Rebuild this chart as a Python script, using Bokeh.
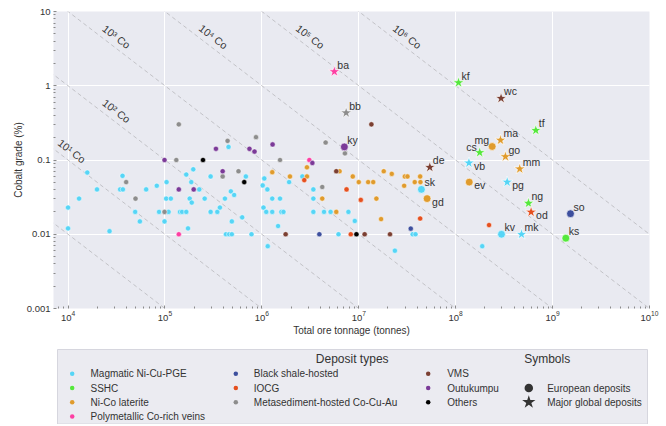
import math
import numpy as np
from bokeh.plotting import figure
from bokeh.models import FixedTicker, CustomJSTickFormatter, Range1d
from bokeh.layouts import column
from bokeh.embed import file_html
from bokeh.resources import INLINE
from bokeh.core.properties import value

FONT = value("Liberation Sans")

# ---------------- data ----------------
types = ["Magmatic Ni-Cu-PGE", "SSHC", "Ni-Co laterite", "Polymetallic Co-rich veins",
         "Black shale-hosted", "IOCG", "Metasediment-hosted Co-Cu-Au",
         "VMS", "Outukumpu", "Others"]
colors = ["#56d5f6", "#55e83c", "#e09b2d", "#fd3fa3", "#3d4f9e",
          "#e5501f", "#8d8d8d", "#7b3f32", "#7b3a98", "#000000"]

# tonnage (t), grade (% Co) of the smaller deposits
magmatic_t = [1e4, 1e4, 1.3e4, 1.58e4, 1.99e4, 2.68e4, 3.45e4, 3.68e4, 3.65e4, 4.93e4,
              5.51e4, 6.4e4, 8.24e4, 8.7e4, 1.04e5, 1.03e5, 1.09e5, 1.15e5, 9.9e4, 1.43e5,
              1.5e5, 1.66e5, 1.66e5, 1.73e5, 1.8e5, 1.89e5, 1.87e5, 1.96e5, 2.26e5, 2.57e5,
              2.96e5, 2.96e5, 3.47e5, 3.69e5, 4.16e5, 4.26e5, 4.6e5, 4.9e5, 4.79e5, 5.18e5,
              4.9e5, 6.27e5, 6.84e5, 7.82e5, 1.02e6, 1.06e6, 1.14e6, 1.04e6, 1.11e6, 1.15e6,
              1.28e6, 1.28e6, 1.54e6, 1.59e6, 1.67e6, 1.47e6, 1.91e6, 2.62e6, 3.4e6, 3.4e6,
              3.4e6, 4.38e6, 5.12e6, 6.18e6, 4.53e5, 7.82e6, 9.1e6, 2.36e7, 3.6e7, 3.85e7,
              1.88e8]
magmatic_g = [0.0229, 0.012, 0.0302, 0.0678, 0.0402, 0.011, 0.0402, 0.0402, 0.0612, 0.02,
              0.0149, 0.0402, 0.045, 0.02, 0.0504, 0.0302, 0.02, 0.0302, 0.0149, 0.02,
              0.02, 0.02, 0.0637, 0.012, 0.0302, 0.0267, 0.0504, 0.075, 0.0402, 0.0302,
              0.06, 0.02, 0.02, 0.0229, 0.0302, 0.01, 0.01, 0.01, 0.0378, 0.0338,
              0.0149, 0.0169, 0.06, 0.01, 0.0455, 0.0564, 0.0402, 0.0229, 0.02, 0.0069,
              0.0302, 0.02, 0.0302, 0.02, 0.02, 0.0129, 0.0504, 0.06, 0.0402, 0.0302,
              0.02, 0.02, 0.02, 0.01, 0.15, 0.02, 0.0151, 0.006, 0.01, 0.01,
              0.0069]
sshc_t = []
sshc_g = []
laterite_t = [1.28e6, 1.95e6, 2.92e6, 2.92e6, 6.34e6, 4.2e6, 5.86e6, 8.67e6, 1e7, 1.25e7,
              1.41e7, 1.81e7, 2.19e7, 2.99e7, 3.18e7, 2.94e7, 3.78e7, 4.3e7, 4.33e7, 1.52e7,
              1.7e7]
laterite_g = [0.0685, 0.06, 0.0798, 0.06, 0.0706, 0.0302, 0.02, 0.06, 0.0504, 0.0504,
              0.0504, 0.0706, 0.065, 0.06, 0.06, 0.045, 0.0504, 0.06, 0.0504, 0.0302,
              0.016]
veins_t = [1.39e5, 3.09e6]
veins_g = [0.01, 0.1]
shale_t = [3.92e6, 3.44e7]
shale_g = [0.01, 0.0119]
iocg_t = [2.74e6, 7.48e6, 1.05e7, 4.3e7, 8.27e6, 2.21e8]
iocg_g = [0.0536, 0.0402, 0.029, 0.0163, 0.01, 0.0133]
metased_t = [1.39e5, 4.43e5, 8.7e5, 3.98e4, 4.97e4, 9.9e4, 1.31e5, 3.94e5, 5.74e5, 1.54e6,
             4.55e6, 4.2e6, 7.2e6]
metased_g = [0.302, 0.181, 0.203, 0.0504, 0.0302, 0.02, 0.1, 0.06, 0.0706, 0.1,
             0.172, 0.0433, 0.123]
vms_t = [5.86e6, 1.76e6, 1.35e7, 1.15e7, 2.1e7]
vms_g = [0.0706, 0.01, 0.302, 0.01, 0.01]
outo_t = [9.9e4, 3.36e5, 7.45e5, 8.4e5, 1.29e6, 3.94e5, 1.39e5, 1.98e5, 3.32e6]
outo_g = [0.1, 0.1415, 0.1415, 0.13, 0.162, 0.0706, 0.0402, 0.0402, 0.0912]
others_t = [2.47e5, 6.58e5, 9.46e6]
others_g = [0.1, 0.0504, 0.01]

small_t = [magmatic_t, sshc_t, laterite_t, veins_t, shale_t, iocg_t, metased_t, vms_t, outo_t, others_t]
small_g = [magmatic_g, sshc_g, laterite_g, veins_g, shale_g, iocg_g, metased_g, vms_g, outo_g, others_g]

# European deposits (circles)
eu_names = ["ky", "sk", "gd", "mg", "ev", "kv", "so", "ks"]
eu_types = [8, 0, 2, 2, 2, 0, 4, 1]
eu_t = [7.1e6, 4.43e7, 5.07e7, 2.38e8, 1.38e8, 2.97e8, 1.53e9, 1.37e9]
eu_g = [0.15, 0.0402, 0.0302, 0.152, 0.0504, 0.01, 0.0189, 0.00886]

# major global deposits (stars)
gl_names = ["ba", "bb", "kf", "wc", "tf", "ma", "cs", "go", "de", "vb", "mm", "pg", "ng", "od", "mk"]
gl_types = [3, 6, 1, 7, 1, 2, 1, 2, 7, 0, 2, 0, 1, 5, 0]
gl_t = [5.6e6, 7.41e6, 1.07e8, 2.94e8, 6.71e8, 2.9e8, 1.77e8, 3.26e8, 5.41e7, 1.37e8,
        4.58e8, 3.4e8, 5.64e8, 6.0e8, 4.78e8]
gl_g = [1.55, 0.432, 1.1, 0.677, 0.251, 0.185, 0.126, 0.111, 0.0798, 0.0912,
        0.0759, 0.0504, 0.0262, 0.0199, 0.01]

# contained-cobalt iso-lines (t Co), labelled exponents
co_exponents = [0, 1, 2, 3, 4, 5, 6]
co_labelled = [1, 2, 3, 4, 5, 6]

x_ticks = [1e4, 1e5, 1e6, 1e7, 1e8, 1e9, 1e10]
y_ticks = [0.001, 0.01, 0.1, 1, 10]

# ---------------- layout / style ----------------
XMIN, XMAX = 10 ** 3.85, 1e10
YMIN, YMAX = 1e-3, 10
W = 660
FW, FH = 596, 300
BL, BT = 53, 11
BR = W - BL - FW
MAIN_H = 338
label_pos = {"ur": ("left", 3, -7), "r": ("left", 5, 3), "ul": ("right", -3, -6)}
place = {"vb": "r", "ev": "r", "pg": "r", "gd": "r", "od": "r", "mg": "ul", "cs": "ul"}
line_label_x = {1: 10 ** 4.04, 2: 10 ** 4.50, 3: 10 ** 4.50, 4: 10 ** 5.50, 5: 10 ** 6.50, 6: 10 ** 7.50}

p = figure(width=W, height=MAIN_H, x_axis_type="log", y_axis_type="log",
           x_range=Range1d(XMIN, XMAX), y_range=Range1d(YMIN, YMAX),
           toolbar_location=None, output_backend="svg",
           min_border_left=BL, min_border_right=BR, min_border_top=BT,
           min_border_bottom=MAIN_H - BT - FH)
p.background_fill_color = "#e9eaf1"
p.border_fill_color = "white"
p.outline_line_color = None

minor_x = [m * 10 ** e for e in range(3, 10) for m in range(2, 10) if XMIN <= m * 10 ** e <= XMAX]
minor_y = [m * 10.0 ** e for e in range(-3, 1) for m in range(2, 10)]
p.xaxis.ticker = FixedTicker(ticks=x_ticks, minor_ticks=minor_x)
p.yaxis.ticker = FixedTicker(ticks=y_ticks, minor_ticks=minor_y)
p.yaxis.formatter = CustomJSTickFormatter(code="return tick.toString();")

for ax in (p.xaxis[0], p.yaxis[0]):
    ax.axis_line_color = None
    ax.major_tick_in = 3
    ax.major_tick_out = 0
    ax.minor_tick_in = 2
    ax.minor_tick_out = 0
    ax.major_tick_line_color = "#8a8a8a"
    ax.minor_tick_line_color = "#8a8a8a"
    ax.major_label_text_font = "Liberation Sans"
    ax.major_label_text_font_size = "9.5px"
    ax.major_label_text_color = "#333333"
    ax.axis_label_text_font = "Liberation Sans"
    ax.axis_label_text_font_size = "10px"
    ax.axis_label_text_font_style = "normal"
    ax.axis_label_text_color = "#333333"
p.xaxis.axis_label = "Total ore tonnage (tonnes)"
p.yaxis.axis_label = "Cobalt grade (%)"
p.xaxis.major_label_standoff = 2
p.xaxis.axis_label_standoff = 1
p.yaxis.major_label_standoff = 3
p.yaxis.axis_label_standoff = 0

p.xgrid.grid_line_color = "white"
p.ygrid.grid_line_color = "white"
p.xgrid.grid_line_width = 1
p.ygrid.grid_line_width = 1

# iso-lines of contained cobalt: tonnes Co = tonnage * grade / 100
xs_line = np.array([10 ** 3.7, 10 ** 10.2])
for k in co_exponents:
    p.line(xs_line, 100 * 10.0 ** k / xs_line, line_color="#bdbdc2", line_width=0.9,
           line_dash="4 3")

sup = {1: "\u00b9", 2: "\u00b2", 3: "\u00b3", 4: "\u2074", 5: "\u2075", 6: "\u2076"}
ang = -math.atan((FH / 4.0) / (FW / math.log10(XMAX / XMIN)))
lx = [line_label_x[k] for k in co_labelled]
ly = [100 * 10.0 ** k / line_label_x[k] for k in co_labelled]
p.text(x=lx, y=ly, text=["10%s Co" % sup[k] for k in co_labelled], angle=ang,
       text_font=FONT, text_font_size="10.5px", text_color="#333333",
       text_align="center", text_baseline="middle", y_offset=-12)

# small deposits
for i, name in enumerate(types):
    if small_t[i]:
        p.scatter(small_t[i], small_g[i], marker="circle", size=5.2,
                  fill_color=colors[i], line_color="white", line_width=0.5)

# European deposits
p.scatter(eu_t, eu_g, marker="circle", size=7.8,
          fill_color=[colors[t] for t in eu_types], line_color="white", line_width=0.6)
# major global deposits
p.scatter(gl_t, gl_g, marker="star", size=12,
          fill_color=[colors[t] for t in gl_types], line_color="white", line_width=0.7)

# labels
for names, tt, gg in ((eu_names, eu_t, eu_g), (gl_names, gl_t, gl_g)):
    for key in ("ur", "r", "ul"):
        idx = [j for j, n in enumerate(names) if place.get(n, "ur") == key]
        if not idx:
            continue
        al, dx, dy = label_pos[key]
        p.text(x=[tt[j] for j in idx], y=[gg[j] for j in idx], text=[names[j] for j in idx],
               text_font=FONT, text_font_size="10.5px", text_color="#333333",
               text_align=al, text_baseline="middle", x_offset=dx, y_offset=dy)

# ---------------- legend panel (coordinates = picture pixels) ----------------
LH = 86
TOP = MAIN_H
lg = figure(width=W, height=LH, x_range=Range1d(BL, BL + FW),
            y_range=Range1d(TOP + LH, TOP),
            toolbar_location=None, output_backend="svg",
            x_axis_location=None, y_axis_location=None,
            min_border_left=BL, min_border_right=BR, min_border_top=0, min_border_bottom=0)
lg.grid.visible = False
lg.outline_line_color = None
lg.background_fill_color = "white"
lg.border_fill_color = "white"
lg.quad(left=[57], right=[647], top=[349], bottom=[TOP + LH - 0.5], fill_color="#ebebf1",
        line_color="#d6d6de", line_width=1)
lg.text(x=[351.7, 546.7], y=[358.3, 358.3], text=["Deposit types", "Symbols"],
        text_font=FONT, text_font_size="12px", text_color="#333333",
        text_align="center", text_baseline="middle")
col_dot = [71.7, 235.3, 427.7]
col_txt = [90, 253.3, 446.7]
row_y = [373.3, 387.5, 401.7, 416.0]
starts = [0, 4, 7]
dx_, dy_, tx_, ty_, tc_ = [], [], [], [], []
for i, name in enumerate(types):
    c = 0 if i < 4 else (1 if i < 7 else 2)
    r = i - starts[c]
    dx_.append(col_dot[c]); dy_.append(row_y[r]); tc_.append(colors[i])
    tx_.append(col_txt[c]); ty_.append(row_y[r])
lg.scatter(dx_, dy_, marker="circle", size=4.5, fill_color=tc_, line_color=None)
lg.text(x=tx_, y=ty_, text=types, text_font=FONT, text_font_size="10px",
        text_color="#333333", text_align="left", text_baseline="middle")
lg.scatter([528.3], [row_y[1]], marker="circle", size=8.5, fill_color="#333333", line_color=None)
lg.scatter([528.3], [row_y[2]], marker="star", size=14, fill_color="#333333", line_color=None)
lg.text(x=[546.7, 546.7], y=[row_y[1], row_y[2]], text=["European deposits", "Major global deposits"],
        text_font=FONT, text_font_size="10px", text_color="#333333",
        text_align="left", text_baseline="middle")

layout = column(p, lg, spacing=0)
open("out.html", "w").write(file_html(layout, INLINE))
